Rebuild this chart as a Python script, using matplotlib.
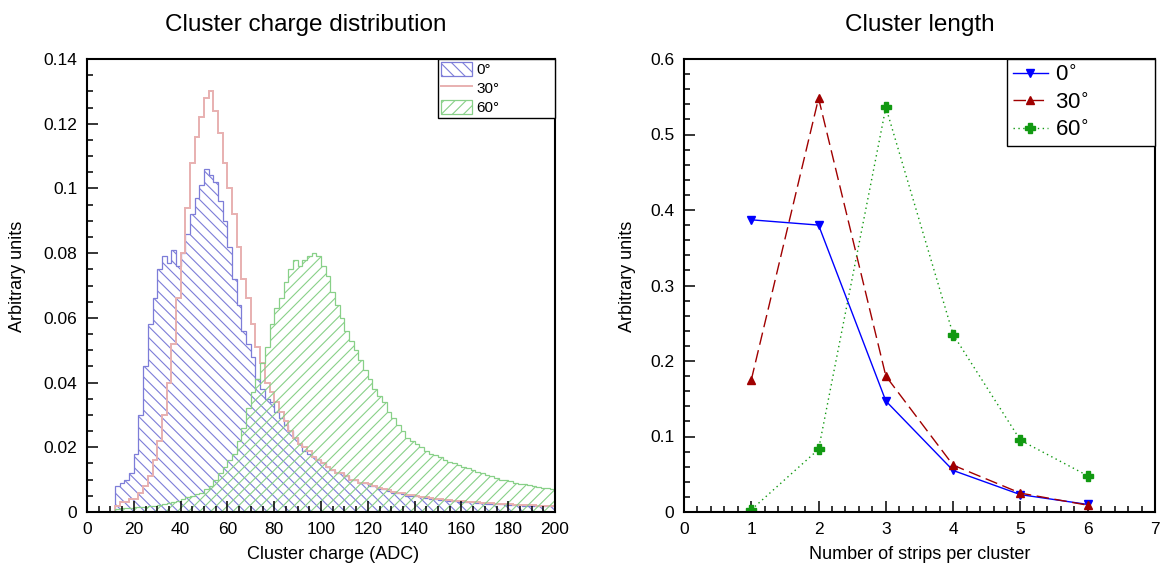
import numpy as np
import matplotlib
matplotlib.use("Agg")
import matplotlib.pyplot as plt
from matplotlib.ticker import MultipleLocator

plt.rcParams['font.family'] = ['Liberation Sans', 'DejaVu Sans']
plt.rcParams['hatch.linewidth'] = 0.8

# --- left panel: cluster charge histograms (bin width 2 ADC, 0..200) ---
charge_edges = np.arange(0, 202, 2)

charge_0 = [
    0, 0, 0, 0, 0, 0, 0.008, 0.009, 0.010, 0.012,
    0.018, 0.030, 0.045, 0.058, 0.066, 0.075, 0.079, 0.077, 0.081, 0.076,
    0.080, 0.086, 0.092, 0.097, 0.101, 0.106, 0.104, 0.102, 0.096, 0.090,
    0.082, 0.072, 0.064, 0.056, 0.052, 0.048, 0.041, 0.038, 0.035, 0.034,
    0.031, 0.029, 0.027, 0.025, 0.023, 0.021, 0.019, 0.018, 0.017, 0.016,
    0.015, 0.014, 0.013, 0.012, 0.012, 0.011, 0.010, 0.010, 0.009, 0.009,
    0.008, 0.008, 0.007, 0.007, 0.0065, 0.006, 0.006, 0.0055, 0.005, 0.005,
    0.0048, 0.0045, 0.0043, 0.004, 0.004, 0.0038, 0.0036, 0.0035, 0.0034, 0.0032,
    0.0031, 0.003, 0.003, 0.0028, 0.0027, 0.0026, 0.0025, 0.0025, 0.0024, 0.0023,
    0.0022, 0.0022, 0.0021, 0.002, 0.002, 0.0019, 0.0019, 0.0018, 0.0018, 0.0017,
]
charge_30 = [
    0, 0, 0, 0, 0, 0, 0.002, 0.003, 0.003, 0.004,
    0.004, 0.006, 0.008, 0.011, 0.016, 0.022, 0.030, 0.040, 0.052, 0.066,
    0.080, 0.094, 0.108, 0.116, 0.122, 0.128, 0.130, 0.124, 0.117, 0.108,
    0.100, 0.092, 0.082, 0.072, 0.066, 0.058, 0.051, 0.046, 0.040, 0.037,
    0.034, 0.031, 0.028, 0.025, 0.023, 0.021, 0.020, 0.019, 0.017, 0.016,
    0.015, 0.014, 0.013, 0.012, 0.012, 0.011, 0.010, 0.010, 0.009, 0.009,
    0.0085, 0.008, 0.0075, 0.007, 0.0068, 0.0063, 0.006, 0.0058, 0.0054, 0.0052,
    0.005, 0.0047, 0.0045, 0.0043, 0.0041, 0.004, 0.0038, 0.0037, 0.0035, 0.0034,
    0.0033, 0.0032, 0.0031, 0.003, 0.0029, 0.0028, 0.0027, 0.0026, 0.0025, 0.0025,
    0.0024, 0.0023, 0.0023, 0.0022, 0.0021, 0.0021, 0.002, 0.002, 0.0019, 0.0019,
]
charge_60 = [
    0, 0, 0, 0, 0, 0, 0.001, 0.0012, 0.0012, 0.0013,
    0.0014, 0.0015, 0.0016, 0.0018, 0.002, 0.0022, 0.0025, 0.0028, 0.003, 0.0035,
    0.004, 0.0045, 0.005, 0.0055, 0.006, 0.007, 0.008, 0.010, 0.012, 0.014,
    0.016, 0.018, 0.022, 0.026, 0.032, 0.037, 0.041, 0.046, 0.051, 0.058,
    0.063, 0.066, 0.071, 0.075, 0.078, 0.076, 0.078, 0.079, 0.080, 0.079,
    0.076, 0.073, 0.068, 0.064, 0.060, 0.056, 0.053, 0.050, 0.047, 0.044,
    0.041, 0.038, 0.036, 0.034, 0.031, 0.029, 0.027, 0.025, 0.023, 0.022,
    0.021, 0.020, 0.019, 0.018, 0.0175, 0.017, 0.016, 0.0155, 0.015, 0.0145,
    0.014, 0.0135, 0.013, 0.0125, 0.012, 0.0115, 0.011, 0.0105, 0.010, 0.0098,
    0.0095, 0.009, 0.0088, 0.0085, 0.0083, 0.008, 0.0078, 0.0075, 0.0073, 0.007,
]

# --- right panel: cluster length ---
n_strips = [1, 2, 3, 4, 5, 6]
length_0 = [0.387, 0.380, 0.147, 0.055, 0.023, 0.010]
length_30 = [0.175, 0.548, 0.180, 0.062, 0.025, 0.009]
length_60 = [0.003, 0.083, 0.536, 0.235, 0.095, 0.048]

W, H = 1166, 567
fig = plt.figure(figsize=(W / 100, H / 100), dpi=100)
ax1 = fig.add_axes([87 / W, 1 - 512 / H, 468 / W, 453 / H])
ax2 = fig.add_axes([684 / W, 1 - 512 / H, 471 / W, 453 / H])


def style_axis(ax):
    for s in ax.spines.values():
        s.set_linewidth(1.5)
    ax.tick_params(which='both', direction='in', top=False, right=False,
                   labelsize=12.5, width=1.1)
    ax.tick_params(which='major', length=8)
    ax.tick_params(which='minor', length=4.5)
    ax.tick_params(axis='y', pad=7)
    ax.tick_params(axis='x', pad=7)


# left
ax1.stairs(charge_0, charge_edges, fill=True, facecolor='none',
           edgecolor='#7d7dd8', hatch='\\\\\\', lw=0.9, label='0°')
ax1.stairs(charge_30, charge_edges, fill=False,
           edgecolor='#e8b0b0', lw=1.4, label='30°')
ax1.stairs(charge_60, charge_edges, fill=True, facecolor='none',
           edgecolor='#88d088', hatch='///', lw=0.9, label='60°')
ax1.set_xlim(0, 200)
ax1.set_ylim(0, 0.14)
ax1.xaxis.set_major_locator(MultipleLocator(20))
ax1.xaxis.set_minor_locator(MultipleLocator(5))
ax1.yaxis.set_major_locator(MultipleLocator(0.02))
ax1.yaxis.set_minor_locator(MultipleLocator(0.005))
ax1.set_yticks(np.arange(0, 0.141, 0.02))
ax1.set_yticklabels(['0', '0.02', '0.04', '0.06', '0.08', '0.1', '0.12', '0.14'])
style_axis(ax1)
ax1.set_title('Cluster charge distribution', fontsize=17.5, pad=20, x=0.468)
ax1.set_xlabel('Cluster charge (ADC)', fontsize=13)
ax1.set_ylabel('Arbitrary units', fontsize=13)
ax1.xaxis.set_label_coords(0.526, -0.075)
ax1.yaxis.set_label_coords(-0.13, 0.52)
leg1 = ax1.legend(loc='upper left', bbox_to_anchor=(0.75, 0.0, 0.25, 1.0),
                  mode='expand', borderaxespad=0, fancybox=False,
                  edgecolor='black', framealpha=1, fontsize=11,
                  handlelength=2.0, handleheight=1.0, labelspacing=0.25,
                  handletextpad=0.3, borderpad=0.2)
leg1.get_frame().set_linewidth(1.0)

# right
ax2.plot(n_strips, length_0, color='blue', lw=1, marker='v', ms=6,
         label='0$^{\\circ}$')
ax2.plot(n_strips, length_30, color='#a00000', lw=1, marker='^', ms=6,
         dashes=(9, 4), label='30$^{\\circ}$')
ax2.plot(n_strips, length_60, color='#119911', lw=1, marker='P', ms=7,
         dashes=(1, 2.5), label='60$^{\\circ}$')
ax2.set_xlim(0, 7)
ax2.set_ylim(0, 0.6)
ax2.xaxis.set_major_locator(MultipleLocator(1))
ax2.xaxis.set_minor_locator(MultipleLocator(0.2))
ax2.yaxis.set_major_locator(MultipleLocator(0.1))
ax2.yaxis.set_minor_locator(MultipleLocator(0.02))
ax2.set_yticks(np.arange(0, 0.61, 0.1))
ax2.set_yticklabels(['0', '0.1', '0.2', '0.3', '0.4', '0.5', '0.6'])
style_axis(ax2)
ax2.set_title('Cluster length', fontsize=17.5, pad=20)
ax2.set_xlabel('Number of strips per cluster', fontsize=13)
ax2.set_ylabel('Arbitrary units', fontsize=13)
ax2.xaxis.set_label_coords(0.5, -0.075)
ax2.yaxis.set_label_coords(-0.102, 0.52)
leg2 = ax2.legend(loc='upper left', bbox_to_anchor=(0.686, 0.0, 0.314, 1.0),
                  mode='expand', borderaxespad=0, fancybox=False,
                  edgecolor='black', framealpha=1, fontsize=16,
                  handlelength=1.6, labelspacing=0.3,
                  handletextpad=0.3, borderpad=0.25)
leg2.get_frame().set_linewidth(1.0)

fig.savefig('out.png', dpi=100)
